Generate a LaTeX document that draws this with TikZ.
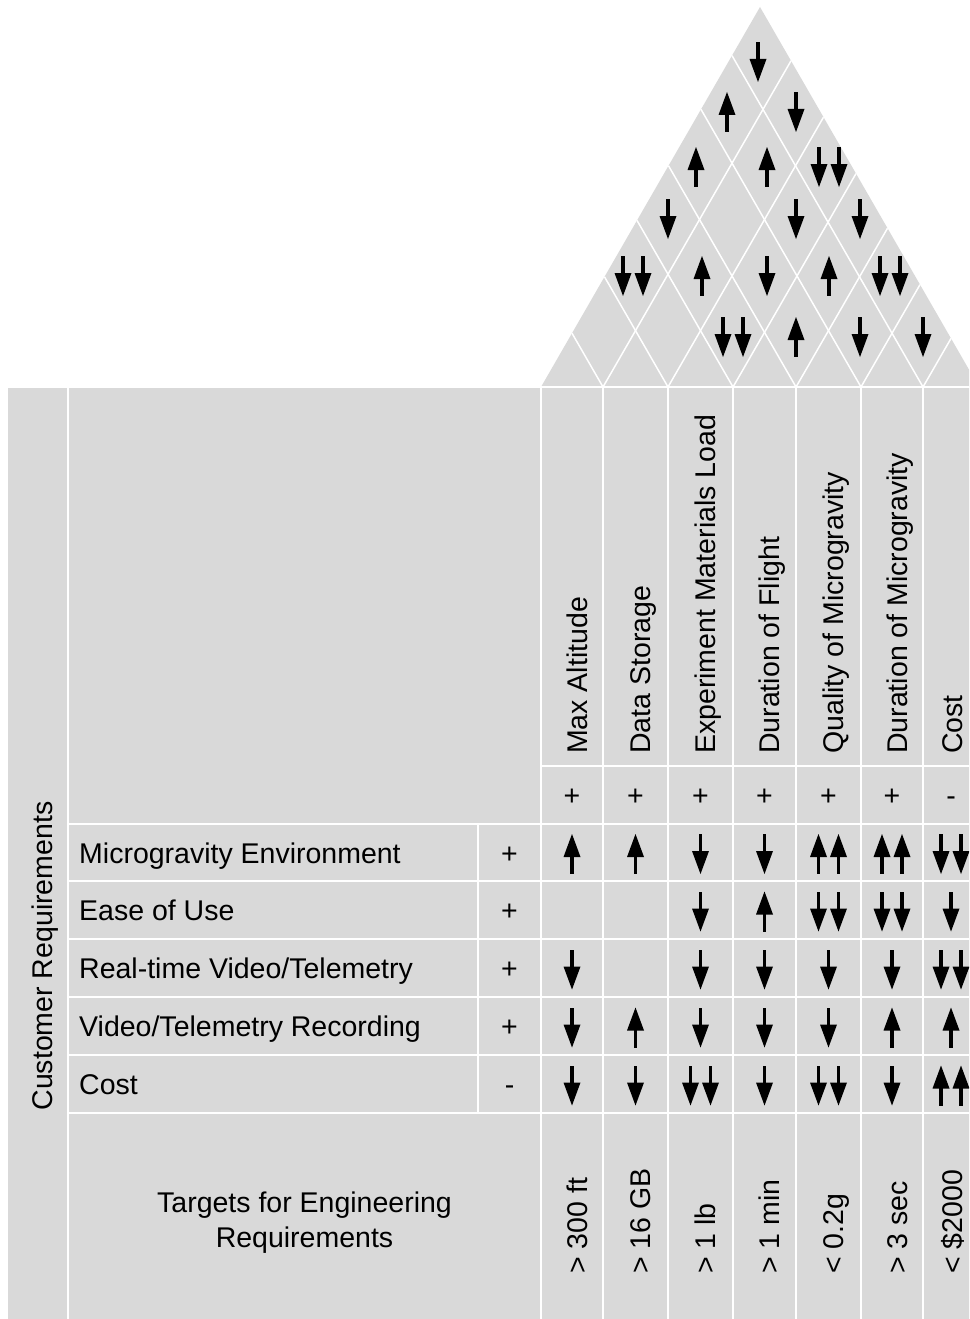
\documentclass[tikz,border=0pt]{standalone}
\usepackage{fontspec}
\setmainfont{Liberation Sans}
\definecolor{cellgray}{RGB}{217,217,217}

% relationship arrows, drawn around the local origin (y grows downwards)
\newcommand\ArrU{\fill[black] (-8.5,3) -- (0,-20) -- (8.5,3) -- cycle;
  \fill[black] (-1.8,2.5) rectangle (1.8,20);}
\newcommand\ArrD{\fill[black] (-8.5,-3) -- (0,20) -- (8.5,-3) -- cycle;
  \fill[black] (-1.8,-2.5) rectangle (1.8,-20);}
\newcommand\ArrUU{\begin{scope}[xshift=-10pt]\ArrU\end{scope}%
  \begin{scope}[xshift=10pt]\ArrU\end{scope}}
\newcommand\ArrDD{\begin{scope}[xshift=-10pt]\ArrD\end{scope}%
  \begin{scope}[xshift=10pt]\ArrD\end{scope}}
\newcommand\ArrN{}

\begin{document}
\begin{tikzpicture}[x=1pt,y=-1pt,
  txt/.style={font=\fontsize{28.5}{34}\selectfont, inner sep=0pt},
  vtxt/.style={txt, rotate=90, anchor=base west},
  tabline/.style={draw=white, line width=2pt},
  roofline/.style={draw=white, line width=1.5pt}]
\useasboundingbox (0,0) rectangle (969,1319);
\clip (0,0) rectangle (969,1319);
\fill[white] (0,0) rectangle (969,1319);

% ---- roof (correlation matrix) ----
\fill[cellgray] (541,387) -- (760,7) -- (979,387) -- cycle;
\foreach \b in {603,668,733,796,861,923} {
  \draw[roofline] ({(\b+541)/2},{387-1.7352*(\b-541)/2}) -- (\b,387)
                  -- ({(\b+979)/2},{387-1.7352*(979-\b)/2});
}
\foreach \xx/\yy/\t in {733/337/DD,796/337/U,860/337/D,923/337/D,
    633/276/DD,702/276/U,767/276/D,829/276/U,890/276/DD,
    668/219/D,796/219/D,860/219/D,
    696/167/U,767/167/U,829/167/DD,
    727/112/U,796/112/D,
    758/62/D} {
  \begin{scope}[shift={(\xx,\yy)}]\csname Arr\t\endcsname\end{scope}
}

% ---- main table ----
\fill[cellgray] (8,388) rectangle (990,1330);
\draw[tabline] (0,387) -- (990,387);
\draw[tabline] (68,387) -- (68,1330);
\foreach \x in {541,603,668,733,796,861,923,979}
  \draw[tabline] (\x,387) -- (\x,1330);
\draw[tabline] (478,824) -- (478,1113);
\draw[tabline] (541,766) -- (990,766);
\foreach \y in {824,881,939,997,1055,1113}
  \draw[tabline] (68,\y) -- (990,\y);

% side heading
\node[txt, rotate=90, anchor=base] (custreq) at (52,956) {Customer Requirements};

% customer requirements and their directions
\node[txt, anchor=base west] (r1) at (79,863) {Microgravity Environment};
\node[txt, anchor=base west] (r2) at (79,920.5) {Ease of Use};
\node[txt, anchor=base west] (r3) at (79,978.5) {Real-time Video/Telemetry};
\node[txt, anchor=base west] (r4) at (79,1036.5) {Video/Telemetry Recording};
\node[txt, anchor=base west] (r5) at (79,1094.5) {Cost};
\node[txt, anchor=base] (s1) at (509.5,863) {+};
\node[txt, anchor=base] (s2) at (509.5,920.5) {+};
\node[txt, anchor=base] (s3) at (509.5,978.5) {+};
\node[txt, anchor=base] (s4) at (509.5,1036.5) {+};
\node[txt, anchor=base] (s5) at (509.5,1094.5) {-};

% engineering requirements
\node[vtxt] (h1) at (587,754) {Max Altitude};
\node[vtxt] (h2) at (650.5,754) {Data Storage};
\node[vtxt] (h3) at (715.5,754) {Experiment Materials Load};
\node[vtxt] (h4) at (779.5,754) {Duration of Flight};
\node[vtxt] (h5) at (843.5,754) {Quality of Microgravity};
\node[vtxt] (h6) at (907,754) {Duration of Microgravity};
\node[vtxt] (h7) at (962,754) {Cost};

% improvement directions
\foreach \c/\s [count=\i] in {572/+,635.5/+,700.5/+,764.5/+,828.5/+,892/+,951/-}
  \node[txt, anchor=base] (d\i) at (\c,805.5) {\s};

% relationship matrix
\foreach \yy/\lst in {854/{U,U,D,D,UU,UU,DD}, 911.5/{N,N,D,U,DD,DD,D},
    969.5/{D,N,D,D,D,D,DD}, 1027.5/{D,U,D,D,D,U,U},
    1085.5/{D,D,DD,D,DD,D,UU}} {
  \foreach \t [count=\i] in \lst {
    \pgfmathsetmacro\cx{{572,635.5,700.5,764.5,828.5,892,951}[\i-1]}
    \begin{scope}[shift={(\cx,\yy)}]\csname Arr\t\endcsname\end{scope}
  }
}

% targets
\node[txt, anchor=base] (tg1) at (304.5,1212) {Targets for Engineering};
\node[txt, anchor=base] (tg2) at (304.5,1247) {Requirements};
\node[vtxt] (t1) at (587,1274) {> 300 ft};
\node[vtxt] (t2) at (650.5,1274) {> 16 GB};
\node[vtxt] (t3) at (715.5,1274) {> 1 lb};
\node[vtxt] (t4) at (779.5,1274) {> 1 min};
\node[vtxt] (t5) at (843.5,1274) {< 0.2g};
\node[vtxt] (t6) at (907,1274) {> 3 sec};
\node[vtxt] (t7) at (962,1274) {< \$2000};
\end{tikzpicture}
\end{document}
